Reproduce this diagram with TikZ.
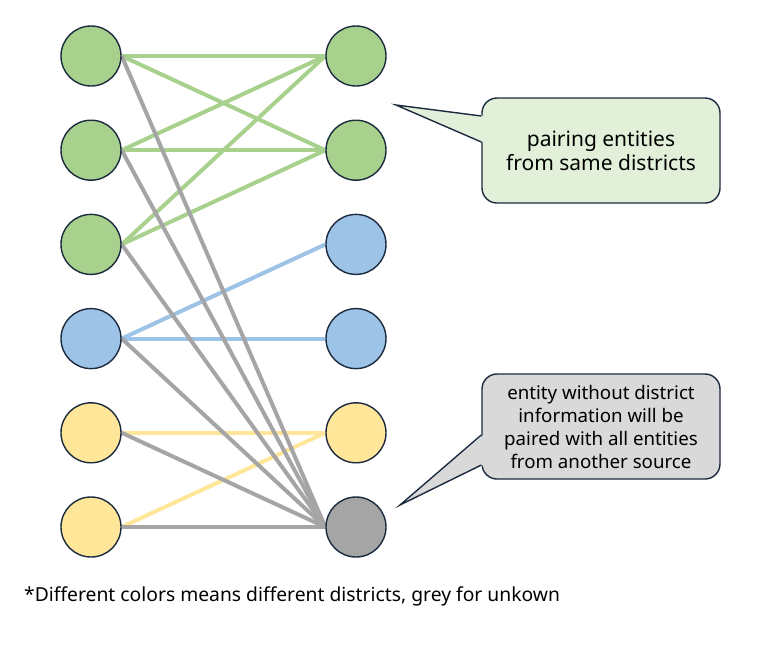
\documentclass[tikz,border=0pt]{standalone}
\usepackage{fontspec}
\setmainfont{Noto Sans}
\usetikzlibrary{backgrounds}
\definecolor{navy}{HTML}{1B2A3E}
\definecolor{cgreen}{HTML}{A9D18E}
\definecolor{cblue}{HTML}{9DC3E6}
\definecolor{cyellow}{HTML}{FFE699}
\definecolor{cgrey}{HTML}{A5A5A5}
\definecolor{bgreen}{HTML}{E2F0D9}
\definecolor{bgrey}{HTML}{D9D9D9}
\tikzset{
  ent/.style={circle, draw=navy, line width=1.4pt, minimum size=60pt, inner sep=0pt},
  link/.style={line width=4pt},
  callbox/.style={draw=navy, line width=1.4pt, rounded corners=15pt, minimum width=238pt, minimum height=105pt, align=center, text=black},
}
\begin{document}
\begin{tikzpicture}[x=1pt,y=-1pt]
\useasboundingbox (0,0) rectangle (760,651);
% left column
\node[ent, fill=cgreen]  (L1) at (91,56) {};
\node[ent, fill=cgreen]  (L2) at (91,150.2) {};
\node[ent, fill=cgreen]  (L3) at (91,244.4) {};
\node[ent, fill=cblue]   (L4) at (91,338.6) {};
\node[ent, fill=cyellow] (L5) at (91,432.8) {};
\node[ent, fill=cyellow] (L6) at (91,527) {};
% right column
\node[ent, fill=cgreen]  (R1) at (356,56) {};
\node[ent, fill=cgreen]  (R2) at (356,150.2) {};
\node[ent, fill=cblue]   (R3) at (356,244.4) {};
\node[ent, fill=cblue]   (R4) at (356,338.6) {};
\node[ent, fill=cyellow] (R5) at (356,432.8) {};
\node[ent, fill=cgrey]   (R6) at (356,527) {};
\begin{scope}[on background layer]
  \foreach \a in {L1,L2,L3}{
    \draw[link, cgreen] (\a.east) -- (R1.west);
    \draw[link, cgreen] (\a.east) -- (R2.west);
  }
  \draw[link, cblue] (L4.east) -- (R3.west);
  \draw[link, cblue] (L4.east) -- (R4.west);
  \draw[link, cyellow] (L5.east) -- (R5.west);
  \draw[link, cyellow] (L6.east) -- (R5.west);
  \foreach \a in {L1,L2,L3,L4,L5,L6}{
    \draw[link, cgrey] (\a.east) -- (R6.west);
  }
\end{scope}
% callout 1
\node[callbox, fill=bgreen, font=\fontsize{21}{24}\selectfont] (C1) at (601,150.5) {pairing entities\\from same districts};
\coordinate (T1) at (396,105);
\fill[bgreen] (T1) -- ([xshift=2pt]C1.west |- 0,116) -- ([xshift=2pt]C1.west |- 0,142) -- cycle;
\draw[navy, line width=1.4pt, line join=miter] (C1.west |- 0,116) -- (T1) -- (C1.west |- 0,142);
% callout 2
\node[callbox, fill=bgrey, font=\fontsize{18.7}{23}\selectfont] (C2) at (601,426.5) {entity without district\\information will be\\paired with all entities\\from another source};
\coordinate (T2) at (400,505);
\fill[bgrey] (T2) -- ([xshift=2pt]C2.west |- 0,435) -- ([xshift=2pt]C2.west |- 0,465) -- cycle;
\draw[navy, line width=1.4pt, line join=miter] (C2.west |- 0,435) -- (T2) -- (C2.west |- 0,465);
% footnote
\node[anchor=west, inner sep=0pt, font=\fontsize{19.3}{22}\selectfont] (N) at (24,596) {*Different colors means different districts, grey for unkown};
\end{tikzpicture}
\end{document}
